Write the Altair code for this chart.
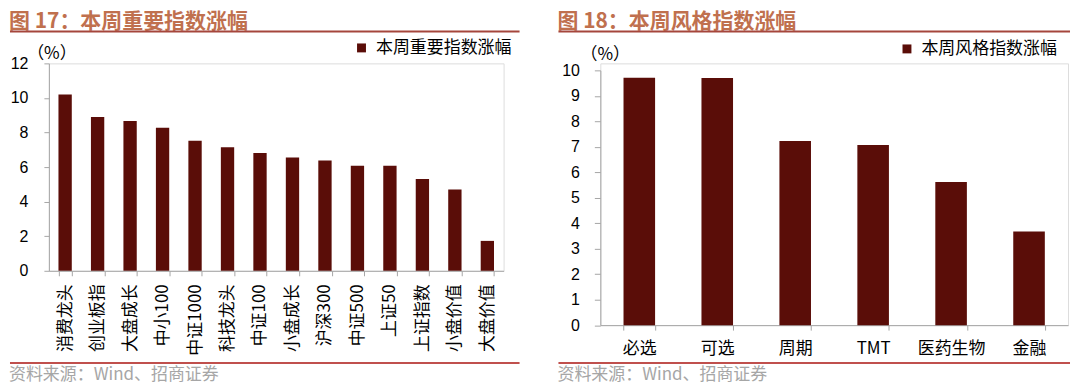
import altair as alt
import pandas as pd

# ---------------- data ----------------
left_categories = ["消费龙头", "创业板指", "大盘成长", "中小100", "中证1000", "科技龙头", "中证100",
                   "小盘成长", "沪深300", "中证500", "上证50", "上证指数", "小盘价值", "大盘价值"]
left_values = [10.2, 8.9, 8.67, 8.27, 7.52, 7.15, 6.81, 6.56, 6.38, 6.08, 6.07, 5.31, 4.71, 1.73]
left_ticks = [0, 2, 4, 6, 8, 10, 12]
left_title = "图 17：本周重要指数涨幅"
left_series = "本周重要指数涨幅"

right_categories = ["必选", "可选", "周期", "TMT", "医药生物", "金融"]
right_values = [9.71, 9.70, 7.23, 7.07, 5.62, 3.68]
right_ticks = [0, 1, 2, 3, 4, 5, 6, 7, 8, 9, 10]
right_title = "图 18：本周风格指数涨幅"
right_series = "本周风格指数涨幅"

unit_text = "（%）"
source_text = "资料来源：Wind、招商证券"

# ---------------- style ----------------
BAR = "#5a0d08"
TITLE_C = "#c0704e"
TOP_LINE = "#a5463c"
BOTTOM_LINE = "#c0504d"
AXIS_C = "#a6a6a6"
SOURCE_C = "#a6a6a6"
CJK = "Noto Sans CJK SC"
LATIN = "Liberation Sans"


def one(v):
    return pd.DataFrame({"t": [v]})


def panel(cats, vals, ticks, ymax, title, series, field, w, h, y_top, pad_in, x_angle,
          x_label_pad, y_label_pad, y_tick, left_x, right_x, title_y,
          top_y, bottom_y, source_y, unit_x, unit_y, leg_x, leg_y):
    df = pd.DataFrame({"cat": cats, "val": vals, field: [series] * len(cats)})
    if x_angle == 0:
        xaxis = alt.Axis(title=None, labelAngle=0, labelFont=CJK, labelFontSize=17,
                         labelColor="#000000", labelPadding=x_label_pad, tickSize=5,
                         tickColor=AXIS_C, domainColor=AXIS_C, tickBand="extent",
                         labelBaseline="top", labelAlign="center")
    else:
        xaxis = alt.Axis(title=None, labelAngle=x_angle, labelFont=CJK, labelFontSize=17,
                         labelColor="#000000", labelPadding=x_label_pad, tickSize=5,
                         tickColor=AXIS_C, domainColor=AXIS_C, tickBand="extent",
                         labelAlign="right", labelBaseline="middle")
    bars = alt.Chart(df).mark_bar().encode(
        x=alt.X("cat:N", sort=cats,
                scale=alt.Scale(paddingInner=pad_in, paddingOuter=pad_in / 2),
                axis=xaxis),
        y=alt.Y("val:Q", scale=alt.Scale(domain=[0, ymax], nice=False, range=[h, y_top]),
                axis=alt.Axis(title=None, values=ticks, grid=False, labelFont=LATIN,
                              labelFontSize=16, labelColor="#000000",
                              labelPadding=y_label_pad, tickSize=y_tick,
                              tickColor=AXIS_C, domainColor=AXIS_C)),
        color=alt.Color(f"{field}:N", scale=alt.Scale(range=[BAR]),
                        legend=alt.Legend(title=None, orient="none", legendX=leg_x,
                                          legendY=leg_y, symbolType="square",
                                          symbolSize=80, symbolStrokeWidth=0,
                                          labelFont=CJK, labelFontSize=17,
                                          labelColor="#000000", labelOffset=6,
                                          padding=0)),
    )
    title_t = alt.Chart(one(title)).mark_text(
        align="left", baseline="top", font=CJK, fontSize=21, fontWeight="bold",
        color=TITLE_C).encode(text="t:N", x=alt.value(left_x), y=alt.value(title_y))
    top_rule = alt.Chart(one(0)).mark_rule(color=TOP_LINE, strokeWidth=2).encode(
        x=alt.value(left_x + 1), x2=alt.value(right_x), y=alt.value(top_y))
    bottom_rule = alt.Chart(one(0)).mark_rule(color=BOTTOM_LINE, strokeWidth=2).encode(
        x=alt.value(left_x + 1), x2=alt.value(right_x), y=alt.value(bottom_y))
    src = alt.Chart(one(source_text)).mark_text(
        align="left", baseline="middle", font=CJK, fontSize=17, color=SOURCE_C
    ).encode(text="t:N", x=alt.value(left_x), y=alt.value(source_y))
    unit = alt.Chart(one(unit_text)).mark_text(
        align="center", baseline="middle", font=CJK, fontSize=17, color="#000000"
    ).encode(text="t:N", x=alt.value(unit_x), y=alt.value(unit_y))
    return alt.layer(bars, title_t, top_rule, bottom_rule, src, unit).properties(
        width=w, height=h)


left = panel(left_categories, left_values, left_ticks, 12, left_title, left_series, "s1",
             w=456, h=208, y_top=0, pad_in=0.59, x_angle=270, x_label_pad=8,
             y_label_pad=16, y_tick=5, left_x=-40, right_x=472, title_y=-52.5,
             top_y=-32, bottom_y=300.5, source_y=313, unit_x=3, unit_y=-9,
             leg_x=305, leg_y=-24)

right = panel(right_categories, right_values, right_ticks, 10, right_title, right_series,
              "s2", w=469, h=262.5, y_top=7, pad_in=0.595, x_angle=0, x_label_pad=10,
              y_label_pad=15, y_tick=6, left_x=-43, right_x=471, title_y=-52.5,
              top_y=-32, bottom_y=300.5, source_y=313, unit_x=5, unit_y=-8.5,
              leg_x=299, leg_y=-23)

chart = alt.hconcat(left, right, spacing=35).resolve_scale(color="independent").properties(
    padding={"left": 0, "top": 2, "right": 0, "bottom": 0}).configure_view(
    strokeWidth=0).configure(background="white")

chart.save("out.html", embed_options={"renderer": "svg", "actions": False})
